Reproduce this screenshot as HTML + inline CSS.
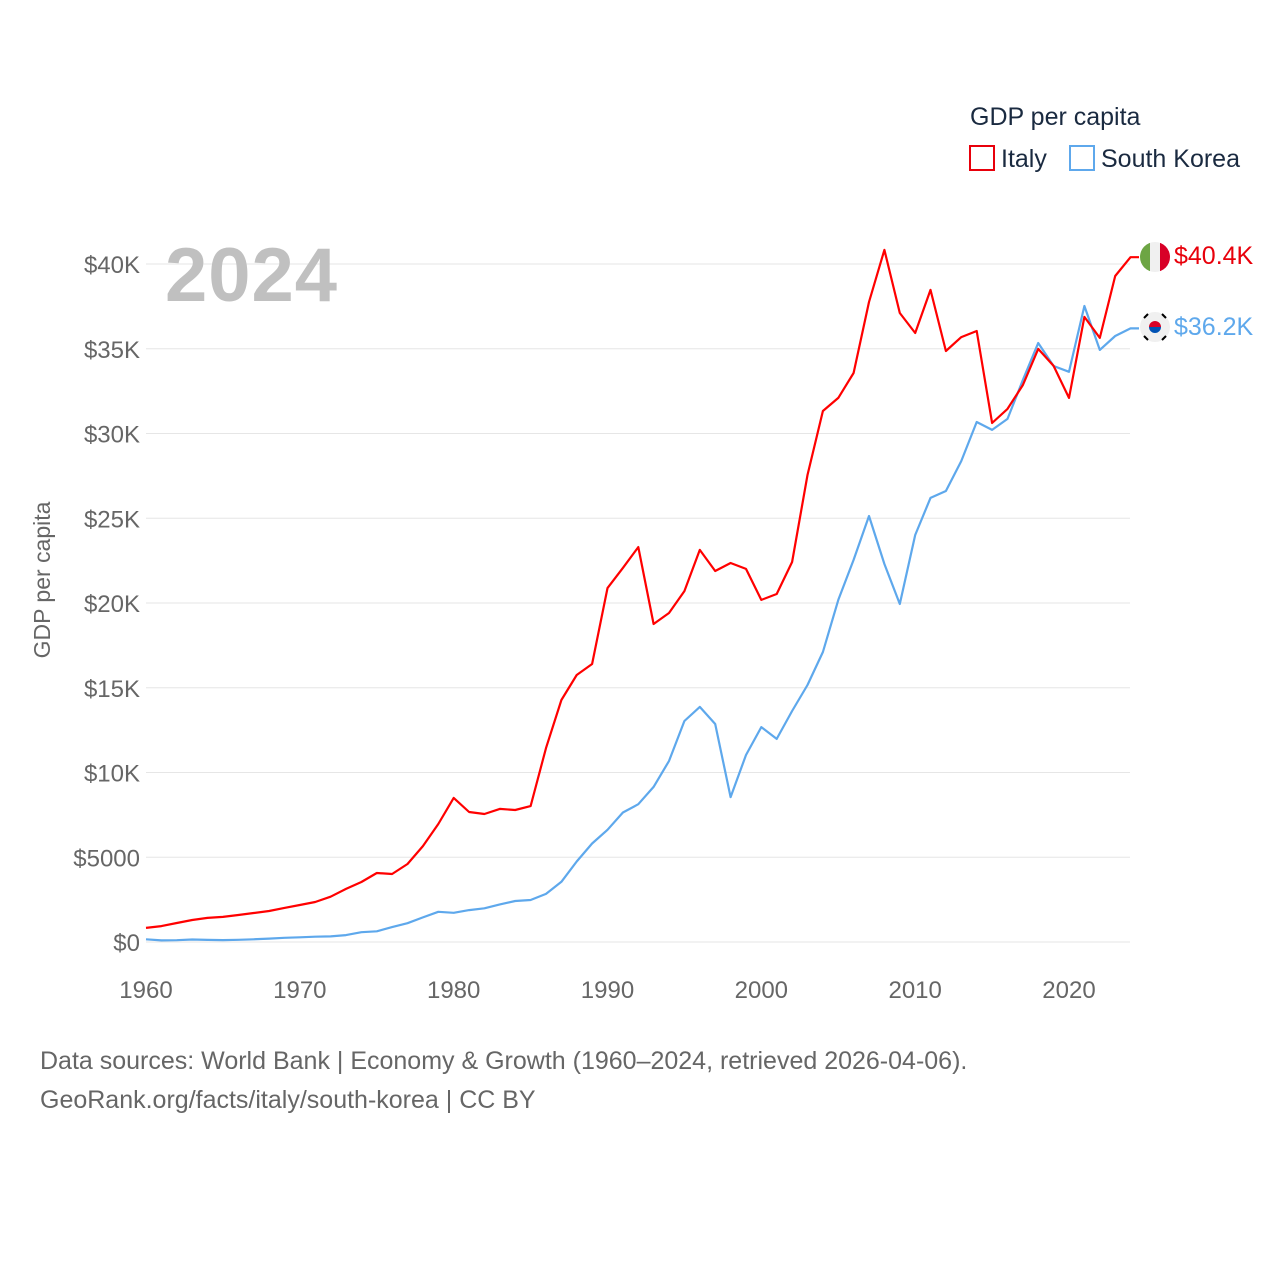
<!DOCTYPE html>
<html><head><meta charset="utf-8"><style>
body{margin:0;background:#fff;font-family:"Liberation Sans",sans-serif}
svg{display:block}
</style></head><body>
<svg id="chart" width="1280" height="1280" viewBox="0 0 1280 1280">
<g id="grid"></g>
<g id="yt"></g>
<g id="xt"></g>
<g id="lines"></g>
<text x="165" y="301" font-size="76" font-weight="bold" fill="#c0c0c0" textLength="172">2024</text>
<text transform="translate(50,580) rotate(-90)" text-anchor="middle" font-size="23" fill="#666">GDP per capita</text>
<g>
<text x="970" y="125" font-size="25" fill="#1a2a40">GDP per capita</text>
<rect x="970" y="146" width="24" height="24" fill="none" stroke="#e8000b" stroke-width="2"/>
<text x="1001" y="167" font-size="25" fill="#1a2a40">Italy</text>
<rect x="1070" y="146" width="24" height="24" fill="none" stroke="#5ea8ec" stroke-width="2"/>
<text x="1101" y="167" font-size="25" fill="#1a2a40">South Korea</text>
</g>
<g>
<clipPath id="c1"><circle cx="1155" cy="257" r="15"/></clipPath>
<g clip-path="url(#c1)"><rect x="1140" y="242" width="10" height="30" fill="#6da544"/><rect x="1150" y="242" width="10" height="30" fill="#f0f0f0"/><rect x="1160" y="242" width="10" height="30" fill="#d80027"/></g>
</g>
<g>
<circle cx="1155" cy="327" r="15" fill="#f0f0f0"/>
<path d="M1149 327a6 6 0 0 1 12 0z" fill="#d80027"/><path d="M1149 327a6 6 0 0 0 12 0z" fill="#0052b4"/>
<g stroke="#000" stroke-width="2"><line x1="1144" y1="318" x2="1148" y2="314"/><line x1="1162" y1="314" x2="1166" y2="318"/><line x1="1144" y1="336" x2="1148" y2="340"/><line x1="1162" y1="340" x2="1166" y2="336"/></g>
</g>
<text id="lblI" x="1174" y="264" font-size="25" fill="#e8000b"></text>
<text id="lblK" x="1174" y="335" font-size="25" fill="#5ea8ec"></text>
<text x="40" y="1069" font-size="25" fill="#666">Data sources: World Bank | Economy &amp; Growth (1960–2024, retrieved 2026-04-06).</text>
<text x="40" y="1108" font-size="25" fill="#666">GeoRank.org/facts/italy/south-korea | CC BY</text>
</svg>
<script>
const years=[];for(let y=1960;y<=2024;y++)years.push(y);
const italy=[830,940,1120,1300,1420,1480,1590,1710,1830,2010,2180,2360,2670,3130,3540,4070,4010,4600,5660,6960,8500,7670,7550,7850,7790,8020,11440,14280,15750,16400,20880,22070,23300,18760,19410,20700,23130,21890,22360,22010,20180,20530,22420,27550,31330,32100,33570,37760,40830,37110,35930,38470,34870,35690,36050,30620,31450,32860,34990,33990,32100,36880,35640,39290,40400];
const korea=[160,95,105,145,125,110,130,160,200,245,280,310,330,410,580,630,880,1110,1450,1780,1720,1880,1990,2220,2420,2480,2840,3550,4750,5810,6620,7640,8130,9150,10680,13040,13870,12860,8550,11030,12680,11980,13630,15160,17110,20180,22540,25130,22300,19940,24010,26200,26610,28380,30680,30210,30860,33160,35340,33980,33640,37520,34930,35750,36200];
const yTicks=[0,5000,10000,15000,20000,25000,30000,35000,40000];
const yTickLabels=["$0","$5000","$10K","$15K","$20K","$25K","$30K","$35K","$40K"];
const xTicks=[1960,1970,1980,1990,2000,2010,2020];
const NS="http://www.w3.org/2000/svg";
const X=y=>146+(y-1960)*(1069-146)/60;
const Y=v=>942-v*(942-264)/40000;
function el(t,a,p){const e=document.createElementNS(NS,t);for(const k in a)e.setAttribute(k,a[k]);document.getElementById(p).appendChild(e);return e;}
yTicks.forEach((v,i)=>{
 const l=el('line',{x1:146,x2:1130,y1:Y(v),y2:Y(v),stroke:'#e6e6e6','stroke-width':1},'grid');
 
 
 const t=el('text',{x:140,y:Y(v)+9,'text-anchor':'end','font-size':24,fill:'#666'},'yt');
 t.textContent=yTickLabels[i];
 
 
});
xTicks.forEach(v=>{
 const t=el('text',{x:X(v),y:998,'text-anchor':'middle','font-size':24,fill:'#666'},'xt');
 t.textContent=v;
 
 
});
function line(d,c,n){
 const last=d[d.length-1];
 const p=el('path',{d:d.map((v,i)=>(i?'L':'M')+X(years[i]).toFixed(1)+' '+Y(v).toFixed(1)).join('')+'L1139 '+Y(last).toFixed(1),fill:'none',stroke:c,'stroke-width':2.2,'stroke-linejoin':'round'},'lines');
 
 
}
line(korea,'#5ea8ec','korea-line');
line(italy,'#ff0000','italy-line');
const fmt=v=>'$'+(v/1000).toFixed(1)+'K';
document.getElementById('lblI').textContent=fmt(italy[italy.length-1]);
document.getElementById('lblK').textContent=fmt(korea[korea.length-1]);
</script>
</body></html>
